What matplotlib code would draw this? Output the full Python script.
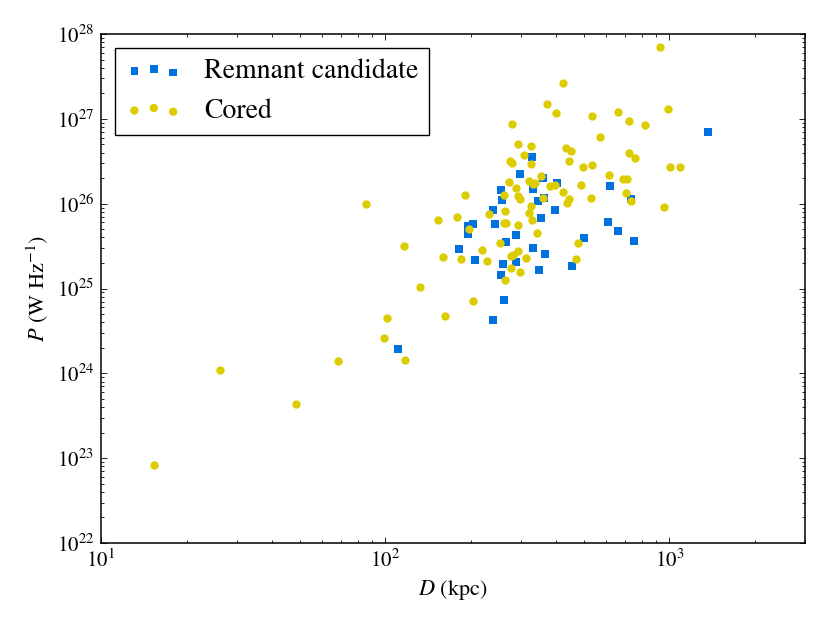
import matplotlib
matplotlib.use('Agg')
import matplotlib.pyplot as plt

# distance (kpc) and power (W/Hz)
remnant_D = [111.2, 182.4, 195.1, 196.0, 203.6, 206.3, 239.3, 239.9, 243.1,
             255.3, 257.4, 254.6, 259.3, 262.5, 265.5, 288.5, 289.2, 298.5,
             327.4, 330.3, 331.9, 345.6, 347.7, 352.1, 360.0, 362.9, 364.8,
             396.3, 402.7, 455.3, 501.0, 606.3, 619.9, 661.2, 733.3, 748.2,
             1371.0]
remnant_P = [1.92e24, 2.9e25, 5.47e25, 4.37e25, 5.78e25, 2.17e25, 8.51e25,
             4.3e24, 5.78e25, 1.44e26, 1.11e26, 1.45e25, 1.97e25, 7.28e24,
             3.55e25, 2.04e25, 4.28e25, 2.26e26, 3.53e26, 3.03e25, 1.5e26,
             1.09e26, 1.66e25, 6.81e25, 2.0e26, 1.16e26, 2.58e25, 8.37e25,
             1.77e26, 1.83e25, 3.98e25, 6.05e25, 1.61e26, 4.78e25, 1.14e26,
             3.64e25, 6.97e26]

cored_D = [15.3, 26.3, 48.5, 68.1, 85.7, 116.4, 132.1, 101.6, 99.1, 117.2,
           161.8, 204.2, 153.8, 159.7, 179.5, 184.9, 191.5, 196.5, 218.3,
           228.0, 231.0, 253.6, 262.5, 263.0, 262.5, 265.5, 263.7, 272.9,
           275.5, 280.4, 280.4, 281.6, 278.1, 278.1, 289.2, 293.1, 293.1,
           293.1, 294.0, 297.8, 297.1, 307.7, 312.7, 321.3, 321.3, 325.8,
           325.8, 326.6, 329.6, 331.3, 337.5, 341.2, 353.3, 358.0, 370.8,
           380.8, 396.9, 400.0, 422.7, 421.0, 432.5, 451.6, 443.4, 443.4,
           437.5, 477.5, 468.0, 487.5, 495.5, 527.7, 535.7, 535.7, 568.9,
           613.5, 661.2, 685.0, 711.8, 706.2, 717.9, 717.9, 731.2, 759.3,
           818.5, 929.1, 957.3, 985.3, 1002.0, 1086.0]
cored_P = [8.3e22, 1.1e24, 4.3e23, 1.41e24, 1.0e26, 3.15e25, 1.03e25, 4.47e24,
           2.6e24, 1.45e24, 4.75e24, 7.15e24, 6.38e25, 2.34e25, 6.93e25,
           2.22e25, 1.28e26, 5.05e25, 2.85e25, 2.13e25, 7.52e25, 3.45e25,
           1.25e26, 8.2e25, 5.98e25, 5.9e25, 1.27e25, 1.81e26, 3.2e26,
           3.05e26, 8.67e26, 2.49e25, 2.44e25, 1.73e25, 1.52e26, 5.07e26,
           5.62e25, 2.77e25, 1.24e26, 1.14e26, 1.56e25, 3.73e26, 2.28e25,
           1.87e26, 7.8e25, 4.81e26, 9.42e25, 2.92e26, 6.44e25, 1.7e26,
           1.77e26, 4.53e25, 2.11e26, 1.16e26, 1.48e27, 1.62e26, 1.68e26,
           1.17e27, 2.66e27, 1.38e26, 4.55e26, 4.2e26, 3.2e26, 1.13e26,
           1.02e26, 3.45e25, 2.25e25, 1.65e26, 2.74e26, 1.16e26, 1.08e27,
           2.89e26, 6.03e26, 2.2e26, 1.21e27, 1.95e26, 1.98e26, 1.32e26,
           9.46e26, 3.97e26, 1.07e26, 3.5e26, 8.43e26, 7.02e27, 9.16e25,
           1.29e27, 2.72e26, 2.72e26]

blue = '#0072DE'
yellow = '#DDCC00'

plt.rcParams['font.family'] = ['STIXGeneral', 'DejaVu Serif']
plt.rcParams['mathtext.fontset'] = 'stix'
plt.rcParams['xtick.direction'] = 'in'
plt.rcParams['ytick.direction'] = 'in'
plt.rcParams['xtick.top'] = True
plt.rcParams['ytick.right'] = True
plt.rcParams['xtick.major.size'] = 4
plt.rcParams['ytick.major.size'] = 4
plt.rcParams['xtick.minor.size'] = 2
plt.rcParams['ytick.minor.size'] = 2
plt.rcParams['xtick.major.width'] = 0.6
plt.rcParams['ytick.major.width'] = 0.6
plt.rcParams['xtick.minor.width'] = 0.6
plt.rcParams['ytick.minor.width'] = 0.6
plt.rcParams['xtick.major.pad'] = 5
plt.rcParams['ytick.major.pad'] = 5

fig = plt.figure(figsize=(8.3, 6.23), dpi=100)
ax = fig.add_axes([0.1217, 0.1284, 0.8482, 0.817])

ax.scatter(remnant_D, remnant_P, s=30, marker='s', c=blue, linewidths=0,
           label='Remnant candidate', zorder=2)
ax.scatter(cored_D, cored_P, s=36, marker='o', c=yellow, linewidths=0,
           label='Cored', zorder=3)

ax.set_xscale('log')
ax.set_yscale('log')
ax.set_xlim(10, 3000)
ax.set_ylim(1e22, 1e28)

ax.tick_params(labelsize=15)
for sp in ax.spines.values():
    sp.set_linewidth(1.1)

ax.set_xlabel('$D$ (kpc)', fontsize=16)
ax.set_ylabel('$P$ (W Hz$^{-1}$)', fontsize=16)

leg = ax.legend(loc='upper left', scatterpoints=3, fontsize=20,
                fancybox=False, framealpha=1, edgecolor='black',
                borderpad=0.4, labelspacing=0.5, handlelength=2.0,
                handletextpad=0.8, borderaxespad=0.5)
leg.get_frame().set_linewidth(1.0)

fig.savefig('out.png', dpi=100)
